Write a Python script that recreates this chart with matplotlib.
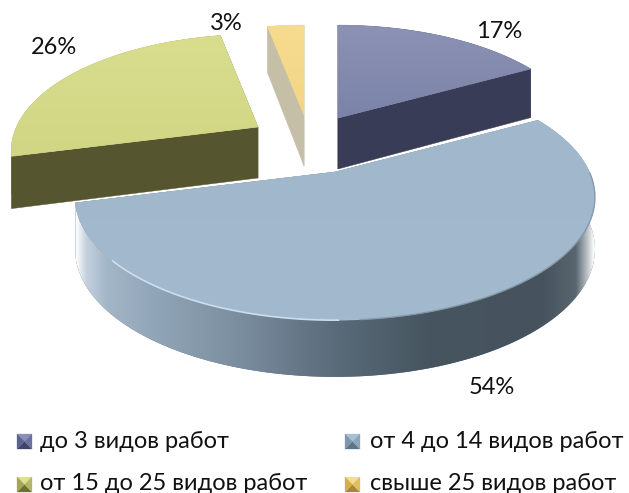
import numpy as np
import matplotlib
matplotlib.use('AGG')
import matplotlib.pyplot as plt
from matplotlib.colors import LinearSegmentedColormap
from matplotlib.patches import Polygon

labels = ['до 3 видов работ', 'от 4 до 14 видов работ', 'от 15 до 25 видов работ', 'свыше 25 видов работ']
values = [17, 54, 26, 3]

# look of each slice, same order as values
apex = [(338, 118), (335, 172), (258, 127), (304, 115)]
scale = [0.94, 0.99, 0.94, 0.91]
top_from = ['#8c92b4', '#a0b7cc', '#d8de8e', '#f6dc90']
top_to = ['#7b83a8', '#a2b9ce', '#d0d684', '#f3d585']
wall = ['#393c56', '#5f7080', '#555630', '#c5bfa8']
label_pos = [(499, 31), (492, 387), (54, 48), (226, 24)]
legend_pos = [(17, 441), (345, 441), (17, 484), (345, 484)]
legend_text_x = [40, 370, 40, 370]
legend_cols = [('#8a90b4', '#3f4468', '#5c6390', '#6a70a0'),
               ('#a8c0d4', '#5d7488', '#7f97ab', '#8da5b8'),
               ('#dde08c', '#6f7035', '#a3a659', '#b3b668'),
               ('#f6dc90', '#a8863a', '#d2b050', '#e0be60')]

R = 257
SR = 119
K = 0.205
DEPTH = 51
KD = 0.1

plt.rcParams['font.family'] = ['Lato', 'Open Sans', 'DejaVu Sans']


def project(c, th, s=1.0, z=0.0):
    # th clockwise from top, perspective on the back of the pie
    x = np.sin(th)
    y = np.cos(th)
    return (c[0] + s * R * x / (1 + K * y),
            c[1] - s * SR * y / (1 + K * y) + z * DEPTH / (1 + KD * y))


fig = plt.figure(figsize=(6.29, 4.93), dpi=100)
ax = fig.add_axes([0, 0, 1, 1])
ax.set_xlim(0, 629)
ax.set_ylim(493, 0)
ax.axis('off')

big_wall = LinearSegmentedColormap.from_list('bw', [
    (0.0, '#ffffff'), (0.02, '#c3d1dd'), (0.06, '#a3b6c7'), (0.14, '#92a7b9'), (0.3, '#7d90a2'),
    (0.5, '#5a6b7a'), (0.68, '#46555f'), (0.9, '#46535e'), (0.965, '#59666f'), (0.99, '#c9ced3'), (1.0, '#ffffff')])

edges = np.cumsum([0] + values) / sum(values) * 2 * np.pi
order = [1, 3, 0, 2]
for i in order:
    c = apex[i]
    s = scale[i]
    z0 = 2 + order.index(i)
    th = np.linspace(edges[i], edges[i + 1], 200)
    tx, ty = project(c, th, s)
    bx, by = project(c, th, s, 1.0)
    # radial walls
    for k in (0, -1):
        ax.add_patch(Polygon([c, (tx[k], ty[k]), (bx[k], by[k]), (c[0], c[1] + DEPTH)],
                             fc=wall[i], ec=wall[i], lw=0.3, zorder=z0))
    # curved wall
    outline = np.column_stack([np.r_[tx, bx[::-1]], np.r_[ty, by[::-1]]])
    side = Polygon(outline, fc=wall[i], ec='none', zorder=z0)
    ax.add_patch(side)
    if i == 1:
        im = ax.imshow(np.linspace(0, 1, 256).reshape(1, -1), cmap=big_wall, aspect='auto',
                       extent=(outline[:, 0].min(), outline[:, 0].max(), outline[:, 1].max(), outline[:, 1].min()),
                       zorder=z0 + 0.1, interpolation='bilinear')
        im.set_clip_path(side)
    # top face with a soft vertical gradient, clipped to the slice
    pts = np.column_stack([np.r_[c[0], tx], np.r_[c[1], ty]])
    face = Polygon(pts, fc=top_to[i], ec=top_to[i], lw=0.4, zorder=z0 + 0.5)
    ax.add_patch(face)
    cm = LinearSegmentedColormap.from_list('t', [top_from[i], top_to[i]])
    im = ax.imshow(np.linspace(0, 1, 64).reshape(-1, 1), cmap=cm, aspect='auto',
                   extent=(pts[:, 0].min(), pts[:, 0].max(), pts[:, 1].max(), pts[:, 1].min()),
                   zorder=z0 + 0.6, interpolation='bilinear')
    im.set_clip_path(face)
    # rim of the big slice
    if i == 1:
        low = (tx > 110) & (tx < 340) & (ty > 200)
        dark = (tx > 360) & (ty > 172)
        ax.plot(tx[low], ty[low], color='#d2e3f0', lw=1.2, alpha=0.9, zorder=8)
        ax.plot(tx[dark], ty[dark], color='#7f91a1', lw=1.0, alpha=0.8, zorder=8)

ax.set_xlim(0, 629)
ax.set_ylim(493, 0)

for i, v in enumerate(values):
    ax.text(label_pos[i][0], label_pos[i][1], f'{v}%', fontsize=17, ha='center', va='center',
            color='#111111', zorder=10)

    x0, y0 = legend_pos[i]
    top, bottom, left, right = legend_cols[i]
    w = 15
    y1 = y0 - 7
    mid = (x0 + w / 2, y1 + w / 2)
    ax.add_patch(Polygon([(x0, y1), (x0 + w, y1), mid], fc=top, ec=top, lw=0.2))
    ax.add_patch(Polygon([(x0, y1 + w), (x0 + w, y1 + w), mid], fc=bottom, ec=bottom, lw=0.2))
    ax.add_patch(Polygon([(x0, y1), (x0, y1 + w), mid], fc=left, ec=left, lw=0.2))
    ax.add_patch(Polygon([(x0 + w, y1), (x0 + w, y1 + w), mid], fc=right, ec=right, lw=0.2))
    ax.text(legend_text_x[i], y0, labels[i], fontsize=17, ha='left', va='center', color='#111111')

fig.savefig('out.png', dpi=100)
